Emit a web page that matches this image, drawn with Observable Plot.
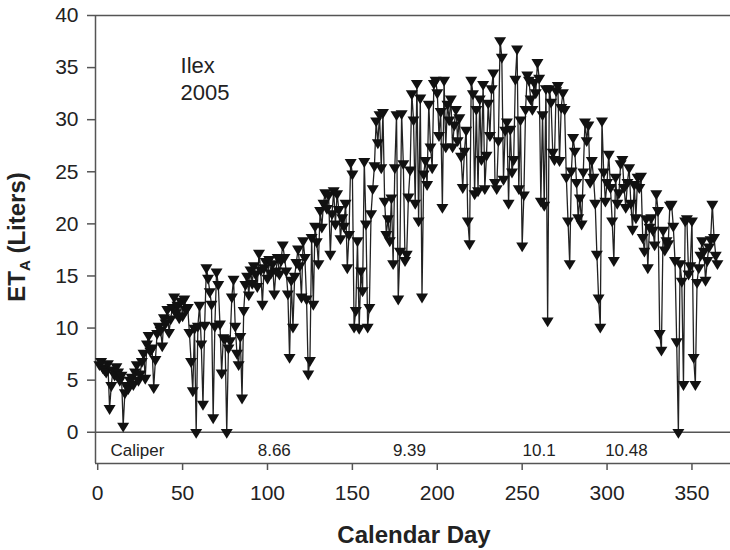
<!DOCTYPE html>
<html>
<head>
<meta charset="utf-8">
<script src="https://cdn.jsdelivr.net/npm/d3@7"></script>
<script src="https://cdn.jsdelivr.net/npm/@observablehq/plot@0.6"></script>
<style>
  html, body { margin: 0; padding: 0; background: #fff; }
  #chart svg { display: block; }
</style>
</head>
<body>
<div id="chart"></div>
<script>
// Daily actual evapotranspiration (L), calendar days 1..365
const etValues = [
  6.5, 6.8, 6.2, 6.0, 5.8, 6.6, 2.3, 4.5, 6.0, 5.5,
  6.3, 5.8, 5.0, 5.5, 0.6, 3.8, 4.5, 4.2, 5.0, 5.3,
  4.6, 5.8, 6.5, 5.0, 5.6, 6.8, 7.6, 5.2, 8.5, 9.3,
  7.8, 8.1, 4.3, 7.0, 9.5, 10.2, 9.8, 8.3, 11.0, 10.5,
  11.8, 9.6, 10.9, 12.0, 13.0, 11.5, 12.2, 11.0, 12.6, 11.2,
  12.8, 11.8, 12.0, 9.6, 6.8, 4.0, 10.0, 0.0, 10.2, 12.2,
  8.5, 2.7, 10.3, 15.8, 14.8, 13.5, 12.3, 1.4, 10.2, 15.4,
  14.2, 10.4, 5.7, 9.1, 9.0, 0.0, 8.1, 8.8, 13.0, 14.7,
  10.2, 7.6, 6.5, 9.2, 3.3, 11.7, 14.2, 15.0, 13.2, 15.6,
  14.3, 16.0, 15.2, 14.0, 17.2, 15.6, 12.3, 15.8, 16.4, 14.8,
  16.6, 15.3, 16.2, 13.3, 15.5, 16.8, 15.2, 16.5, 18.0, 16.8,
  15.5, 13.3, 7.2, 14.6, 10.1, 15.0, 16.3, 17.6, 16.0, 13.0,
  18.4, 16.8, 12.8, 5.6, 6.9, 18.7, 12.3, 19.8, 18.3, 16.2,
  21.3, 19.7, 22.0, 23.0, 21.5, 22.8, 17.1, 21.0, 23.2, 20.0,
  22.9, 21.4, 18.6, 20.6, 19.8, 22.0, 15.8, 19.0, 25.9, 24.8,
  10.1, 11.7, 18.4, 10.0, 15.5, 13.6, 26.0, 20.0, 10.1, 12.0,
  21.0, 23.4, 25.6, 29.9, 27.8, 30.5, 25.4, 30.7, 22.2, 19.0,
  20.5, 18.4, 22.5, 16.2, 25.4, 30.5, 12.8, 17.4, 30.6, 25.8,
  16.5, 17.1, 22.6, 25.2, 32.5, 30.0, 22.0, 33.5, 20.3, 32.1,
  13.0, 24.8, 26.1, 23.8, 31.5, 27.4, 25.4, 33.5, 33.8, 32.6,
  28.5, 30.8, 21.6, 33.8, 27.4, 31.5, 30.0, 32.0, 27.4, 29.5,
  31.0, 28.0, 30.2, 26.5, 23.5, 27.0, 29.0, 20.3, 18.1, 33.8,
  32.5, 22.9, 31.0, 23.2, 32.0, 26.2, 33.4, 23.4, 26.6, 31.6,
  28.5, 33.0, 34.5, 24.0, 23.4, 28.0, 37.6, 36.0, 24.3, 29.0,
  29.8, 22.0, 29.1, 25.0, 26.2, 33.9, 36.8, 23.4, 30.0, 17.9,
  22.8, 31.0, 34.3, 33.8, 32.0, 31.0, 33.6, 32.6, 35.5, 34.0,
  22.2, 30.5, 21.8, 33.0, 10.7, 33.0, 31.7, 26.9, 26.2, 32.8,
  33.3, 26.1, 31.2, 32.6, 31.0, 24.5, 20.3, 16.2, 25.1, 28.3,
  27.0, 24.0, 20.6, 22.5, 20.0, 25.0, 29.8, 28.0, 29.5, 24.0,
  26.1, 24.5, 22.0, 17.1, 12.9, 10.1, 29.9, 25.0, 22.2, 24.0,
  26.7, 23.5, 20.3, 16.5, 24.5, 22.0, 23.0, 25.8, 26.2, 23.5,
  21.6, 24.0, 25.4, 22.0, 19.5, 23.8, 20.6, 24.5, 23.5, 24.6,
  18.7, 17.4, 20.5, 15.8, 19.7, 20.6, 19.4, 18.0, 22.9, 21.3,
  9.5, 7.9, 19.4, 17.5, 18.4, 18.1, 21.8, 21.9, 19.8, 16.5,
  8.7, 0.0, 16.2, 14.5, 4.6, 20.3, 20.5, 15.2, 16.0, 20.3,
  7.2, 4.6, 14.4, 15.8, 17.0, 18.4, 17.4, 14.6, 16.5, 17.8,
  18.5, 21.9, 18.7, 17.0, 16.2
];
const firstDay = 1;

const xTicks = [0, 50, 100, 150, 200, 250, 300, 350];
const yTicks = [0, 5, 10, 15, 20, 25, 30, 35, 40];

// Caliper labels written in the strip below zero
const caliperText = ["Caliper", "8.66", "9.39", "10.1", "10.48"];
const caliperDay = [7.5, 104, 183.6, 260, 311.4];
const caliperAnchor = ["start", "middle", "middle", "middle", "middle"];
const caliperLevel = -1.8;

const noteLines = ["Ilex", "2005"];
const noteDay = 48.8;
const noteLevel = [35.2, 32.6];

const xTitle = "Calendar Day";
const yTitleMain = "ET";
const yTitleSub = "A";
const yTitleRest = " (Liters)";

const xDomain = [-1.3, 372.7];
const yDomain = [-3, 40];

const data = etValues.map((v, i) => ({day: firstDay + i, et: v}));
const caliper = caliperText.map((t, i) => ({text: t, day: caliperDay[i], anchor: caliperAnchor[i]}));
const notes = noteLines.map((t, i) => ({text: t, y: noteLevel[i]}));

const downTriangle = {
  draw(context, size) {
    const r = Math.sqrt(size / Math.PI);
    context.moveTo(-r, -0.55 * r);
    context.lineTo(r, -0.55 * r);
    context.lineTo(0, 1.1 * r);
    context.closePath();
  }
};

const ink = "#222";
const frameInk = "#555";

const plot = Plot.plot({
  width: 730,
  height: 550,
  marginLeft: 95,
  marginRight: 0,
  marginTop: 15,
  marginBottom: 87,
  style: {fontFamily: "'Liberation Sans', Arial, sans-serif", background: "#fff", color: ink},
  x: {domain: xDomain, label: null},
  y: {domain: yDomain, label: null},
  marks: [
    Plot.axisY({ticks: yTicks, tickSize: 8, tickPadding: 9, fontSize: 21, label: null, stroke: frameInk, strokeWidth: 1.5}),
    Plot.axisX({ticks: xTicks, tickSize: 7, tickPadding: 15, fontSize: 21, label: null, stroke: frameInk, strokeWidth: 1.5}),
    Plot.ruleY([yDomain[1], 0, yDomain[0]], {stroke: frameInk, strokeWidth: 1.5}),
    Plot.ruleX([xDomain[0]], {stroke: frameInk, strokeWidth: 1.5}),
    Plot.line(data, {x: "day", y: "et", stroke: "#222", strokeWidth: 1.3}),
    Plot.dot(data, {x: "day", y: "et", symbol: downTriangle, r: 6, fill: "#111", stroke: "none"}),
    Plot.text(caliper.filter(d => d.anchor === "start"), {x: "day", y: () => caliperLevel, text: "text", textAnchor: "start", lineAnchor: "middle", fontSize: 17, fill: ink}),
    Plot.text(caliper.filter(d => d.anchor === "middle"), {x: "day", y: () => caliperLevel, text: "text", textAnchor: "middle", lineAnchor: "middle", fontSize: 17, fill: ink}),
    Plot.text(notes, {x: () => noteDay, y: "y", text: "text", textAnchor: "start", lineAnchor: "middle", fontSize: 22, fill: ink})
  ]
});

const svg = d3.select(plot);
svg.append("text")
  .attr("x", 414).attr("y", 543)
  .attr("text-anchor", "middle")
  .attr("font-size", 24).attr("font-weight", "bold")
  .attr("fill", ink)
  .text(xTitle);

const yt = svg.append("text")
  .attr("transform", "translate(25,237) rotate(-90)")
  .attr("text-anchor", "middle")
  .attr("font-size", 24).attr("font-weight", "bold")
  .attr("fill", ink);
yt.append("tspan").text(yTitleMain);
yt.append("tspan").attr("font-size", 15).attr("dy", 5).text(yTitleSub);
yt.append("tspan").attr("dy", -5).text(yTitleRest);

document.getElementById("chart").appendChild(plot);
</script>
</body>
</html>
